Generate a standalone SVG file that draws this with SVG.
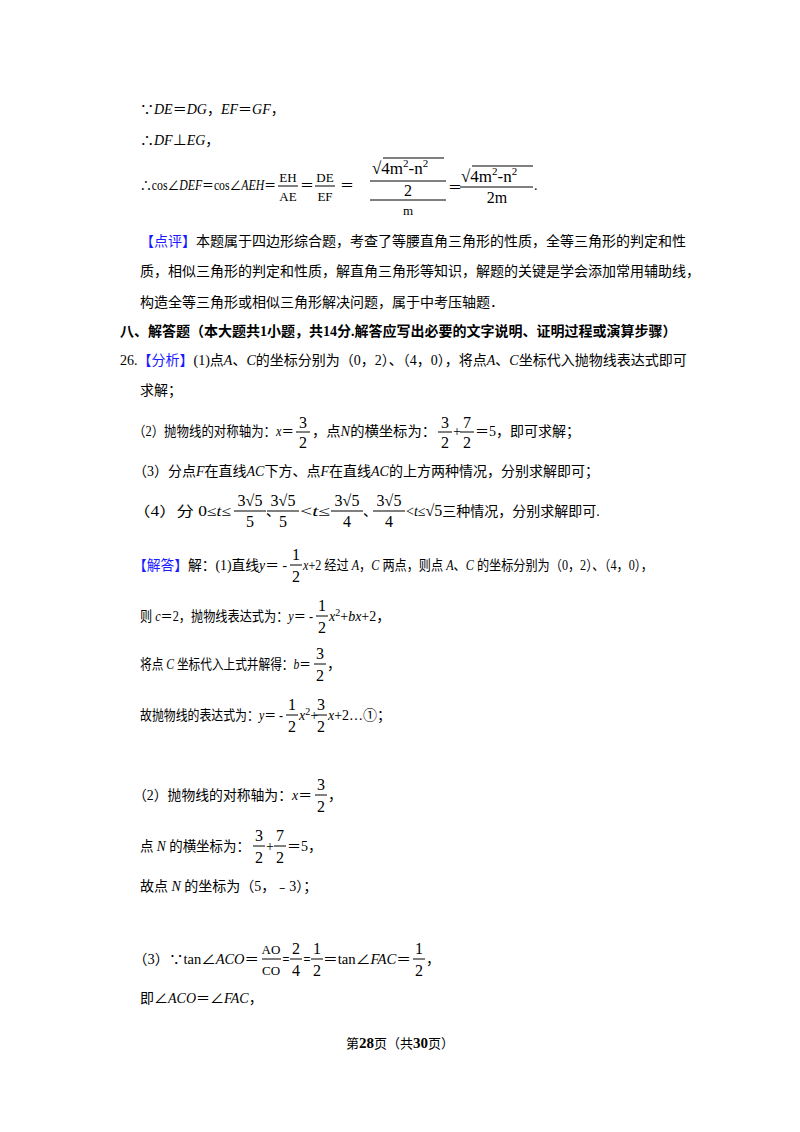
<svg xmlns="http://www.w3.org/2000/svg" width="800" height="1132" viewBox="0 0 800 1132">
<style>
text{font-family:"Liberation Serif","Noto Sans CJK SC",serif;font-size:14px;fill:#000}
.b{fill:#1a1aff}
.f{text-anchor:middle;font-size:16px}
.i{font-style:italic}
.bold{font-weight:bold}
line{stroke:#000;stroke-width:1}
</style>
<rect width="800" height="1132" fill="#fff"/>
<text x="140" y="114">∵<tspan class="i">DE</tspan>＝<tspan class="i">DG</tspan>，<tspan class="i">EF</tspan>＝<tspan class="i">GF</tspan>，</text>
<text x="140" y="145">∴<tspan class="i">DF</tspan>⊥<tspan class="i">EG</tspan>，</text>
<text x="140" y="190" textLength="136" lengthAdjust="spacingAndGlyphs">∴cos∠<tspan class="i">DEF</tspan>＝cos∠<tspan class="i">AEH</tspan>＝</text>
<text class="f" x="288" y="182" style="font-size:13px">EH</text><line x1="278" y1="186" x2="298" y2="186"/><text class="f" x="288" y="201" style="font-size:13px">AE</text>
<text x="300" y="190">＝</text>
<text class="f" x="325" y="182" style="font-size:13px">DE</text><line x1="315" y1="186" x2="335" y2="186"/><text class="f" x="325" y="201" style="font-size:13px">EF</text>
<text x="340" y="190">＝</text>
<text x="372" y="174" style="font-size:17px">√<tspan>4m</tspan><tspan dy="-7" style="font-size:11px">2</tspan><tspan dy="7">-n</tspan><tspan dy="-7" style="font-size:11px">2</tspan></text>
<line x1="383" y1="158" x2="444" y2="158"/>
<line x1="370" y1="181" x2="446" y2="181"/>
<text class="f" x="408" y="196">2</text>
<line x1="370" y1="200" x2="446" y2="200"/>
<text class="f" x="408" y="215" style="font-size:13px">m</text>
<text x="448" y="192">＝</text>
<text x="461" y="182" style="font-size:17px">√<tspan>4m</tspan><tspan dy="-7" style="font-size:11px">2</tspan><tspan dy="7">-n</tspan><tspan dy="-7" style="font-size:11px">2</tspan></text>
<line x1="472" y1="166" x2="533" y2="166"/>
<line x1="460" y1="187" x2="533" y2="187"/>
<text class="f" x="497" y="203">2m</text>
<text x="534" y="190">.</text>
<text x="140" y="246"><tspan class="b">【点评】</tspan>本题属于四边形综合题，考查了等腰直角三角形的性质，全等三角形的判定和性</text>
<text x="140" y="276">质，相似三角形的判定和性质，解直角三角形等知识，解题的关键是学会添加常用辅助线，</text>
<text x="140" y="307">构造全等三角形或相似三角形解决问题，属于中考压轴题．</text>
<text x="120" y="336" class="bold">八、解答题（本大题共1小题，共14分.解答应写出必要的文字说明、证明过程或演算步骤）</text>
<text x="120" y="365">26.<tspan class="b">【分析】</tspan>(1)点<tspan class="i">A</tspan>、<tspan class="i">C</tspan>的坐标分别为（0，2）、（4，0），将点<tspan class="i">A</tspan>、<tspan class="i">C</tspan>坐标代入抛物线表达式即可</text>
<text x="140" y="395">求解；</text>
<text x="133" y="436" textLength="161" lengthAdjust="spacingAndGlyphs">（2）抛物线的对称轴为：<tspan class="i">x</tspan>＝</text>
<text class="f" x="303" y="428">3</text><line x1="296" y1="432" x2="310" y2="432"/><text class="f" x="303" y="448">2</text>
<text x="312" y="436" textLength="124" lengthAdjust="spacingAndGlyphs">，点<tspan class="i">N</tspan>的横坐标为：</text>
<text class="f" x="445" y="428">3</text><line x1="438" y1="432" x2="452" y2="432"/><text class="f" x="445" y="448">2</text>
<text x="453" y="436">+</text>
<text class="f" x="467" y="428">7</text><line x1="460" y1="432" x2="474" y2="432"/><text class="f" x="467" y="448">2</text>
<text x="475" y="436">＝5，即可求解；</text>
<text x="133" y="476">（3）分点<tspan class="i">F</tspan>在直线<tspan class="i">AC</tspan>下方、点<tspan class="i">F</tspan>在直线<tspan class="i">AC</tspan>的上方两种情况，分别求解即可；</text>
<text x="133" y="516" textLength="98" lengthAdjust="spacingAndGlyphs">（4）分 0≤<tspan class="i">t</tspan>≤</text>
<text class="f" x="250" y="506">3√5</text><line x1="234" y1="511" x2="266" y2="511"/><text class="f" x="250" y="527">5</text>
<text x="266" y="516">、</text>
<text class="f" x="283" y="506">3√5</text><line x1="267" y1="511" x2="299" y2="511"/><text class="f" x="283" y="527">5</text>
<text x="300" y="516" textLength="30" lengthAdjust="spacingAndGlyphs">&lt;<tspan class="i">t</tspan>≤</text>
<text class="f" x="347" y="506">3√5</text><line x1="331" y1="511" x2="363" y2="511"/><text class="f" x="347" y="527">4</text>
<text x="363" y="516">、</text>
<text class="f" x="389" y="506">3√5</text><line x1="373" y1="511" x2="405" y2="511"/><text class="f" x="389" y="527">4</text>
<text x="406" y="516">&lt;<tspan class="i">t</tspan>≤<tspan style="font-size:16px">√5</tspan>三种情况，分别求解即可.</text>
<text x="133" y="570" textLength="154" lengthAdjust="spacingAndGlyphs"><tspan class="b">【解答】</tspan>解：(1)直线<tspan class="i">y</tspan>＝ -</text>
<text class="f" x="296" y="560">1</text><line x1="290" y1="565" x2="302" y2="565"/><text class="f" x="296" y="582">2</text>
<text x="303" y="570" textLength="350" lengthAdjust="spacingAndGlyphs"><tspan class="i">x</tspan>+2 经过 <tspan class="i">A</tspan>，<tspan class="i">C</tspan> 两点，则点 <tspan class="i">A</tspan>、<tspan class="i">C</tspan> 的坐标分别为（0，2）、（4，0），</text>
<text x="140" y="621" textLength="173" lengthAdjust="spacingAndGlyphs">则 <tspan class="i">c</tspan>＝2，抛物线表达式为：<tspan class="i">y</tspan>＝ -</text>
<text class="f" x="322" y="611">1</text><line x1="316" y1="616" x2="328" y2="616"/><text class="f" x="322" y="633">2</text>
<text x="329" y="621"><tspan class="i">x</tspan><tspan dy="-5" style="font-size:10px">2</tspan><tspan dy="5">+</tspan><tspan class="i">bx</tspan>+2，</text>
<text x="140" y="669" textLength="171" lengthAdjust="spacingAndGlyphs">将点 <tspan class="i">C</tspan> 坐标代入上式并解得：<tspan class="i">b</tspan>＝</text>
<text class="f" x="320" y="659">3</text><line x1="314" y1="664" x2="326" y2="664"/><text class="f" x="320" y="681">2</text>
<text x="327" y="669">，</text>
<text x="140" y="720" textLength="143" lengthAdjust="spacingAndGlyphs">故抛物线的表达式为：<tspan class="i">y</tspan>＝ -</text>
<text class="f" x="292" y="710">1</text><line x1="286" y1="715" x2="298" y2="715"/><text class="f" x="292" y="732">2</text>
<text x="299" y="720"><tspan class="i">x</tspan><tspan dy="-5" style="font-size:10px">2</tspan><tspan dy="5">+</tspan></text>
<text class="f" x="321" y="710">3</text><line x1="315" y1="715" x2="327" y2="715"/><text class="f" x="321" y="732">2</text>
<text x="328" y="720"><tspan class="i">x</tspan>+2…①；</text>
<text x="133" y="800" textLength="179" lengthAdjust="spacingAndGlyphs">（2）抛物线的对称轴为：<tspan class="i">x</tspan>＝</text>
<text class="f" x="321" y="790">3</text><line x1="315" y1="795" x2="327" y2="795"/><text class="f" x="321" y="812">2</text>
<text x="328" y="800">，</text>
<text x="140" y="851" textLength="110" lengthAdjust="spacingAndGlyphs">点 <tspan class="i">N</tspan> 的横坐标为：</text>
<text class="f" x="259" y="841">3</text><line x1="253" y1="846" x2="265" y2="846"/><text class="f" x="259" y="863">2</text>
<text x="266" y="851">+</text>
<text class="f" x="280" y="841">7</text><line x1="274" y1="846" x2="286" y2="846"/><text class="f" x="280" y="863">2</text>
<text x="287" y="851">＝5，</text>
<text x="140" y="891">故点 <tspan class="i">N</tspan> 的坐标为（5，﹣3）；</text>
<text x="133" y="964" textLength="126" lengthAdjust="spacingAndGlyphs">（3）∵tan∠<tspan class="i">ACO</tspan>＝</text>
<text class="f" x="271" y="954" style="font-size:13px">AO</text><line x1="262" y1="959" x2="281" y2="959"/><text class="f" x="271" y="975" style="font-size:13px">CO</text>
<text x="282" y="964" textLength="8" lengthAdjust="spacingAndGlyphs">＝</text>
<text class="f" x="296" y="954">2</text><line x1="290" y1="959" x2="302" y2="959"/><text class="f" x="296" y="976">4</text>
<text x="303" y="964" textLength="8" lengthAdjust="spacingAndGlyphs">＝</text>
<text class="f" x="317" y="954">1</text><line x1="311" y1="959" x2="323" y2="959"/><text class="f" x="317" y="976">2</text>
<text x="323" y="964" textLength="88" lengthAdjust="spacingAndGlyphs">＝tan∠<tspan class="i">FAC</tspan>＝</text>
<text class="f" x="419" y="954">1</text><line x1="413" y1="959" x2="425" y2="959"/><text class="f" x="419" y="976">2</text>
<text x="426" y="964">，</text>
<text x="140" y="1003">即∠<tspan class="i">ACO</tspan>＝∠<tspan class="i">FAC</tspan>，</text>
<text x="400" y="1048" style="text-anchor:middle;font-size:13px">第<tspan class="bold" style="font-size:15px">28</tspan>页（共<tspan class="bold" style="font-size:15px">30</tspan>页）</text>
</svg>
